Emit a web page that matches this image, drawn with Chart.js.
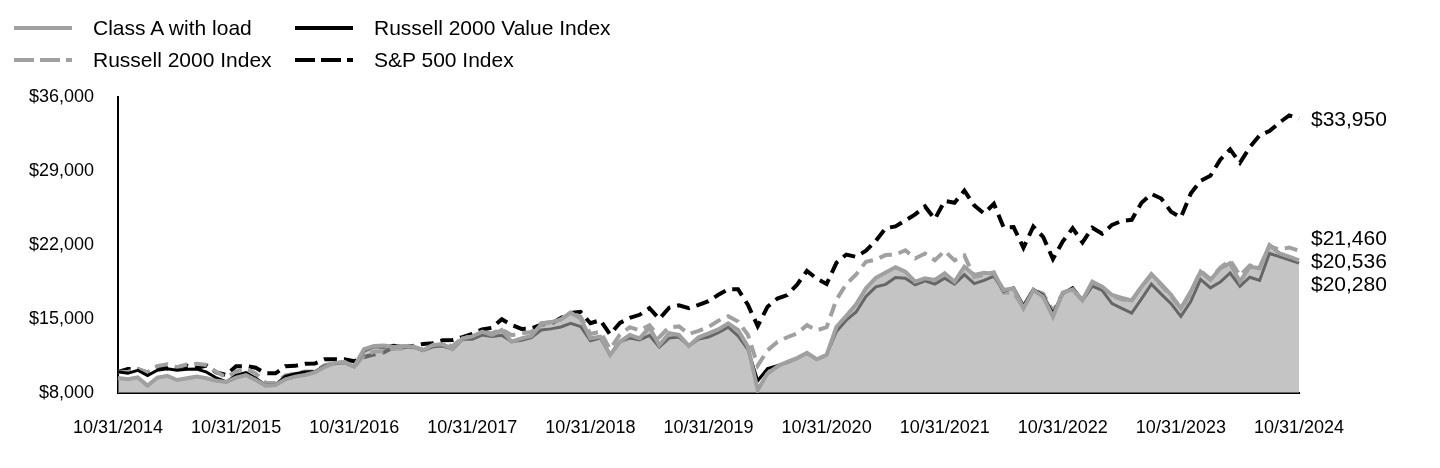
<!DOCTYPE html>
<html><head><meta charset="utf-8">
<script src="https://cdn.jsdelivr.net/npm/chart.js"></script>
<style>
html,body{margin:0;padding:0;background:#fff;}
#wrap{position:relative;width:1440px;height:468px;overflow:hidden;font-family:Arial,"Liberation Sans",sans-serif;}
#c{position:absolute;left:0;top:0;}
.lg{position:absolute;font-size:21px;color:#000;line-height:24px;white-space:nowrap;}
.sw{position:absolute;}
</style></head><body>
<div id="wrap">
<canvas id="c" width="1440" height="468"></canvas>
<div id="legend"></div>
</div>
<script>
const tickLabels = ['10/31/2014','10/31/2015','10/31/2016','10/31/2017','10/31/2018','10/31/2019','10/31/2020','10/31/2021','10/31/2022','10/31/2023','10/31/2024'];

const seriesNames = ['Class A with load','Russell 2000 Value Index','Russell 2000 Index','S&P 500 Index'];

const classA = [9425,9300,9480,
 8700,9450,9620,9230,9400,9550,9400,9150,9050,9450,9700,9230,
 8700,8750,9300,9550,9700,9950,10450,10850,10900,10500,12150,12450,
 12500,12350,12450,12400,12070,12540,12600,12150,13170,13350,13800,13500,
 13950,12850,13170,13400,14500,14700,14950,15600,15060,13170,13330,11600,
 12850,13490,13170,14210,12540,13650,13490,12450,13270,13650,14020,14590,
 13960,12400,8280,9860,10500,10950,11300,11810,11190,11600,14270,15300,
 16400,17900,18900,19400,19890,19480,18530,18850,18690,19320,18530,19950,
 19160,19380,19300,17740,17900,16010,17740,17110,15220,17490,17810,16800,
 18530,18060,17270,17000,16750,18060,19250,18300,17300,16010,17600,19480,
 18690,19800,20270,18530,19950,19800,22000,21210,20890,20536];

const r2000v = [10000,9862,10148,
 9657,10152,10302,10159,10244,10264,9974,9421,9042,9658,9930,9390,
 8728,8777,9572,9814,9994,10039,10546,10776,10867,10475,11964,12370,
 12303,12519,12370,12359,12005,12373,12450,12136,13074,13080,13480,13340,
 13456,12848,12988,13246,13965,14066,14241,14599,14291,12944,13200,11624,
 12832,13209,13011,13449,12352,13191,13291,12461,13116,13296,13698,14227,
 13397,12123,9154,10304,10589,10885,11270,11765,11164,11606,13827,14886,
 15668,17142,18037,18279,18924,18860,18227,18614,18298,18864,18293,19200,
 18350,18650,19050,17600,17950,16250,17800,17250,15500,17400,17950,16750,
 18100,17700,16450,16000,15550,16900,18300,17350,16450,15250,16650,18750,
 17950,18500,19350,18100,18950,18650,21200,20900,20600,20280];

const r2000 = [10000,9998,10283,
 9952,10543,10726,10453,10691,10771,10647,9978,9488,10023,10349,9829,
 8965,8952,9671,9823,10044,10038,10637,10827,10947,10427,11589,11914,
 11959,12190,12206,12340,12090,12508,12601,12441,13217,13331,13715,13660,
 14016,13474,13648,13765,14601,14706,14962,15607,15231,13577,13793,12154,
 13521,14224,13926,14400,13280,14219,14301,13595,13878,14243,14830,15257,
 14767,13524,10585,12039,12822,13274,13642,14410,13929,14220,16841,18298,
 19218,20416,20614,21047,21091,21500,20724,21188,20563,21437,20543,21001,
 18979,19182,19420,17496,17522,16082,17762,17398,15731,17463,17872,16712,
 18342,18032,17170,16861,16706,18064,19170,18211,17139,15971,17417,19545,
 18785,19846,20556,19109,20068,19881,21901,21575,21760,21460];

const sp500 = [10000,10269,10243,
 9936,10507,10341,10440,10575,10370,10588,9950,9704,10523,10554,10387,
 9872,9859,10527,10568,10758,10786,11184,11200,11202,10998,11405,11631,
 11852,12322,12337,12464,12640,12718,12980,13020,13288,13598,14015,14171,
 14983,14430,14063,14116,14457,14546,15087,15579,15668,14596,14894,13549,
 14634,15104,15397,16020,15003,16061,16292,16035,16335,16689,17295,17817,
 17810,16345,14326,16162,16932,17269,18243,19554,18811,18311,20316,21096,
 20883,21459,22399,23595,23760,24314,24893,25649,24456,26170,25989,27153,
 25749,24979,25906,23647,23690,21735,23739,22771,20674,22349,23597,22238,
 23635,23058,23904,24277,24381,25993,26827,26400,25141,24613,26860,28079,
 28551,30076,31044,29778,31255,32377,32772,33568,34260,33950];

const categories = [];
for (let i = 0; i < classA.length; i++) {
  const m = (9 + i) % 12 + 1;
  const y = 2014 + Math.floor((9 + i) / 12);
  categories.push((m < 10 ? '0' : '') + m + '/' + y);
}

const FONT = 'Arial, "Liberation Sans", sans-serif';
Chart.defaults.font.family = FONT;
Chart.defaults.color = '#000';

const styles = [
  {color:'#a0a0a0', width:4, dash:[], lgDash:''},
  {color:'#000000', width:3, dash:[], lgDash:''},
  {color:'#a0a0a0', width:4, dash:[13,7], lgDash:'20 6'},
  {color:'#000000', width:4, dash:[13,7], lgDash:'20 6'}
];

// HTML legend
(function(){
  const lg = document.getElementById('legend');
  const cols = [14, 295], rows = [28, 60];
  seriesNames.forEach((name, k) => {
    const cx = cols[k % 2], cy = rows[Math.floor(k / 2)];
    const st = styles[k];
    const svgNS = 'http://www.w3.org/2000/svg';
    const svg = document.createElementNS(svgNS, 'svg');
    svg.setAttribute('width', '60'); svg.setAttribute('height', '8');
    svg.setAttribute('class', 'sw');
    svg.style.left = cx + 'px'; svg.style.top = (cy - 4) + 'px';
    const ln = document.createElementNS(svgNS, 'line');
    ln.setAttribute('x1', '0'); ln.setAttribute('y1', '4');
    ln.setAttribute('x2', '58'); ln.setAttribute('y2', '4');
    ln.setAttribute('stroke', st.color); ln.setAttribute('stroke-width', '4');
    if (st.lgDash) ln.setAttribute('stroke-dasharray', st.lgDash);
    svg.appendChild(ln);
    lg.appendChild(svg);
    const t = document.createElement('div');
    t.className = 'lg';
    t.textContent = name;
    t.style.left = (cx + 79) + 'px';
    t.style.top = (cy - 12) + 'px';
    lg.appendChild(t);
  });
})();

const endLabels = {
  id: 'endLabels',
  afterDatasetsDraw(chart) {
    const {ctx, chartArea, scales} = chart;
    const items = chart.data.datasets.map(ds => {
      const v = ds.data[ds.data.length - 1];
      const y = scales.y.getPixelForValue(v);
      return {v, y, ny: y};
    }).sort((a, b) => a.y - b.y);
    const gap = 23;
    const clusters = [];
    for (let i = 0; i < items.length; i++) {
      if (i > 0 && items[i].ny - items[i - 1].ny < gap) {
        items[i].ny = items[i - 1].ny + gap;
        clusters[clusters.length - 1].push(items[i]);
      } else clusters.push([items[i]]);
    }
    clusters.forEach(cl => {
      const m = cl[Math.floor(cl.length / 2)];
      const d = m.y - m.ny;
      cl.forEach(it => { it.ny += d; });
    });
    ctx.save();
    ctx.font = '21px ' + FONT;
    ctx.fillStyle = '#000';
    ctx.textBaseline = 'middle';
    ctx.textAlign = 'left';
    items.forEach(it => ctx.fillText('$' + it.v.toLocaleString('en-US'), chartArea.right + 12, it.ny + 2));
    ctx.restore();
  }
};

const seriesData = [classA, r2000v, r2000, sp500];
new Chart(document.getElementById('c'), {
  type: 'line',
  data: {
    labels: categories,
    datasets: seriesData.map((d, k) => ({
      label: seriesNames[k],
      data: d,
      borderColor: styles[k].color,
      borderWidth: styles[k].width,
      borderDash: styles[k].dash,
      backgroundColor: k === 0 ? 'rgba(162,162,162,0.63)' : 'transparent',
      fill: k === 0 ? 'start' : false,
      order: k
    }))
  },
  options: {
    responsive: false,
    animation: false,
    events: [],
    layout: {padding: {top: 97, right: 141, left: 0, bottom: 0}},
    elements: {point: {radius: 0}, line: {tension: 0}},
    plugins: {legend: {display: false}, tooltip: {enabled: false}},
    scales: {
      x: {
        grid: {display: false, drawTicks: false},
        border: {display: true, color: '#000', width: 2},
        ticks: {
          autoSkip: false, maxRotation: 0, minRotation: 0, padding: 24,
          color: '#000', font: {size: 18, family: FONT},
          callback: (v, i) => (i % 12 === 0 ? tickLabels[i / 12] : '')
        },
        afterFit: s => { s.height = 75; }
      },
      y: {
        min: 8000, max: 36000,
        grid: {display: false, drawTicks: false},
        border: {display: true, color: '#000', width: 2},
        ticks: {
          stepSize: 7000, padding: 24,
          color: '#000', font: {size: 18, family: FONT},
          callback: v => '$' + Number(v).toLocaleString('en-US')
        },
        afterFit: s => { s.width = 118; }
      }
    }
  },
  plugins: [endLabels]
});
</script>
</body></html>
